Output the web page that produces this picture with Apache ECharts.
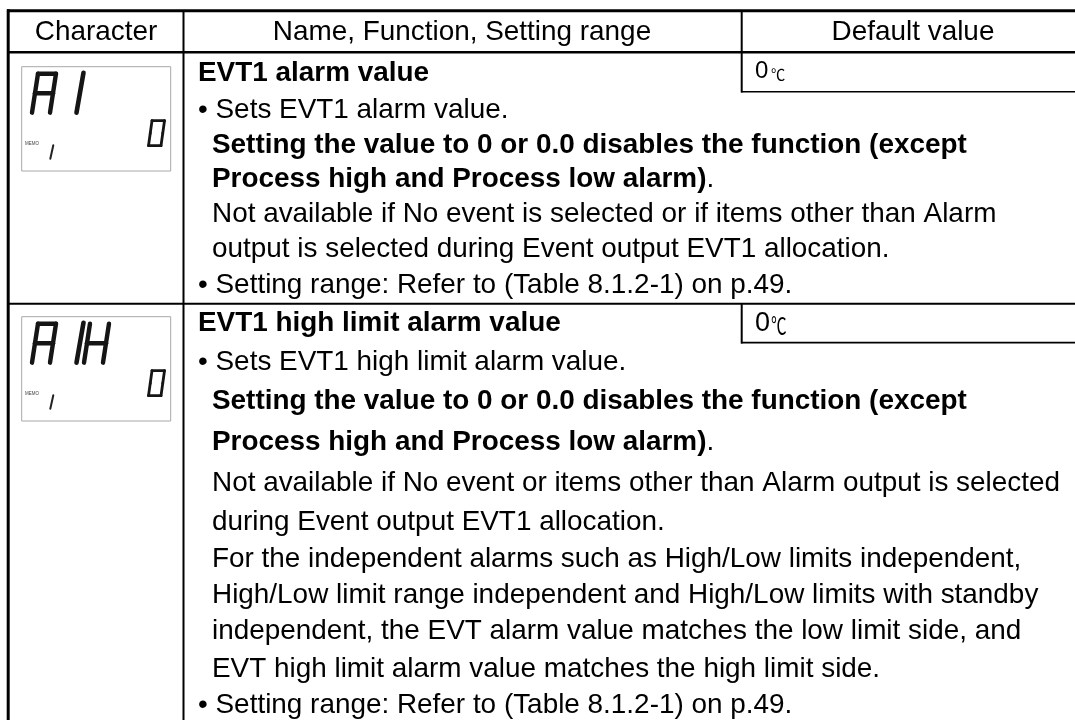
<!DOCTYPE html>
<html><head><meta charset="utf-8">
<script src="https://cdn.jsdelivr.net/npm/echarts@6/dist/echarts.min.js"></script>
<style>html,body{margin:0;padding:0;background:#fff}#c{width:1075px;height:720px}</style>
</head><body><div id="c"></div>
<script>
const headers = ["Character", "Name, Function, Setting range", "Default value"];
const row1Lines = [
  ["b","EVT1 alarm value",0],
  ["n","• Sets EVT1 alarm value.",0],
  ["b","Setting the value to 0 or 0.0 disables the function (except",1],
  ["m","Process high and Process low alarm)",1,"."],
  ["n","Not available if No event is selected or if items other than Alarm",1],
  ["n","output is selected during Event output EVT1 allocation.",1],
  ["n","• Setting range: Refer to (Table 8.1.2-1) on p.49.",0]
];
const row1Base = [83,120,155,189,224,259,295];
const row2Lines = [
  ["b","EVT1 high limit alarm value",0],
  ["n","• Sets EVT1 high limit alarm value.",0],
  ["b","Setting the value to 0 or 0.0 disables the function (except",1],
  ["m","Process high and Process low alarm)",1,"."],
  ["n","Not available if No event or items other than Alarm output is selected",1],
  ["n","during Event output EVT1 allocation.",1],
  ["n","For the independent alarms such as High/Low limits independent,",1],
  ["n","High/Low limit range independent and High/Low limits with standby",1],
  ["n","independent, the EVT alarm value matches the low limit side, and",1],
  ["n","EVT high limit alarm value matches the high limit side.",1],
  ["n","• Setting range: Refer to (Table 8.1.2-1) on p.49.",0]
];
const row2Base = [333,372,411,452,493,532.5,569,605,641.7,679,715];
const defaults = ["0", "℃"];
const lcdRows = [{top:66.7, main:["A","1"]},{top:316.7, main:["A","1","H"]}];

const FONT = '"Liberation Sans", Arial, sans-serif';
const SIZE = 27.9;
const els = [];
function line(x1,y1,x2,y2,w,c,cap){ els.push({type:'line',silent:true,shape:{x1,y1,x2,y2},style:{stroke:c||'#000',lineWidth:w,lineCap:cap||'butt'}}); }
function txt(x,base,item){
  const kind=item[0];
  const rich={b:{fontWeight:'bold',fontSize:SIZE,fontFamily:FONT,fill:'#000'},n:{fontSize:SIZE,fontFamily:FONT,fill:'#000'}};
  const text=kind==='m'?'{b|'+item[1]+'}{n|'+item[3]+'}':'{'+kind+'|'+item[1]+'}';
  els.push({type:'text',silent:true,style:{x:x+(item[2]?14:0),y:base-SIZE*0.36,text,rich,align:'left',verticalAlign:'middle'}});
}
// grid
line(7,10.7,1075,10.7,3);
line(7,52.3,1075,52.3,2.5);
line(8.2,9.2,8.2,720,3);
line(183.5,10,183.5,720,2);
line(741.7,10,741.7,92.5,2);
line(741,91.7,1075,91.7,1.6);
line(8,303.8,1075,303.8,2);
line(741.7,303,741.7,343.5,2);
line(741,342.7,1075,342.7,1.8);
// headers
[[96,0],[462,1],[913,2]].forEach(([x,i])=>{
  els.push({type:'text',silent:true,style:{x,y:42.3-SIZE*0.36,text:headers[i],fontSize:SIZE,fontFamily:FONT,fill:'#000',align:'center',verticalAlign:'middle'}});
});
row1Lines.forEach((l,i)=>txt(198,row1Base[i],l));
row2Lines.forEach((l,i)=>txt(198,row2Base[i],l));
[[80,24,0.62,0.62],[333.3,27,0.68,1]].forEach(([b,s0,sx,sy])=>{
  els.push({type:'text',silent:true,x:755,y:b,scaleX:s0/27,scaleY:s0/27,style:{x:0,y:-9.7,text:defaults[0],fontSize:27,fontFamily:FONT,fill:'#000',verticalAlign:'middle'}});
  els.push({type:'text',silent:true,x:771,y:b,scaleX:sx,scaleY:sy,style:{x:0,y:-8.3,text:defaults[1],fontSize:23,fontFamily:'"Noto Sans CJK JP"',fill:'#000',verticalAlign:'middle'}});
});
// LCD glyphs
const segMap={a:[[0,1],[1,1]],b:[[1,1],[1,.5]],c:[[1,.5],[1,0]],d:[[0,0],[1,0]],e:[[0,.5],[0,0]],f:[[0,1],[0,.5]],g:[[0,.5],[1,.5]]};
function sevenSeg(x,y,w,h,lw,segs,sl){
  segs.split('').forEach(k=>{
    const [a,b]=segMap[k];
    line(x+a[0]*w+a[1]*sl,y-a[1]*h,x+b[0]*w+b[1]*sl,y-b[1]*h,lw,'#151515','round');
  });
}
const glyph={A:'abcefg',1:'bc',H:'bcefg',0:'abcdef'};
lcdRows.forEach(r=>{
  const t=r.top;
  els.push({type:'rect',silent:true,shape:{x:21.7,y:t,width:149,height:104.3},style:{fill:'#fff',stroke:'#a8a8a8',lineWidth:1}});
  r.main.forEach(g=>{
    if(g==='1') line(76.5,t+46,83.5,t+6,4.6,'#151515','round');
    else sevenSeg(g==='A'?32:84,t+46,g==='A'?18:19,39,4.4,glyph[g],6);
  });
  sevenSeg(148.5,t+79,12.5,25,2.8,glyph[0],3.5);
  line(50.3,t+92,53.3,t+78.5,2,'#222','round');
  els.push({type:'text',silent:true,style:{x:25,y:t+77.5,text:'MEMO',fontSize:4.5,fontFamily:FONT,fill:'#444',verticalAlign:'middle'}});
});
const chart=echarts.init(document.getElementById('c'),null,{renderer:'canvas'});
chart.setOption({animation:false,graphic:{elements:els}});
</script></body></html>
